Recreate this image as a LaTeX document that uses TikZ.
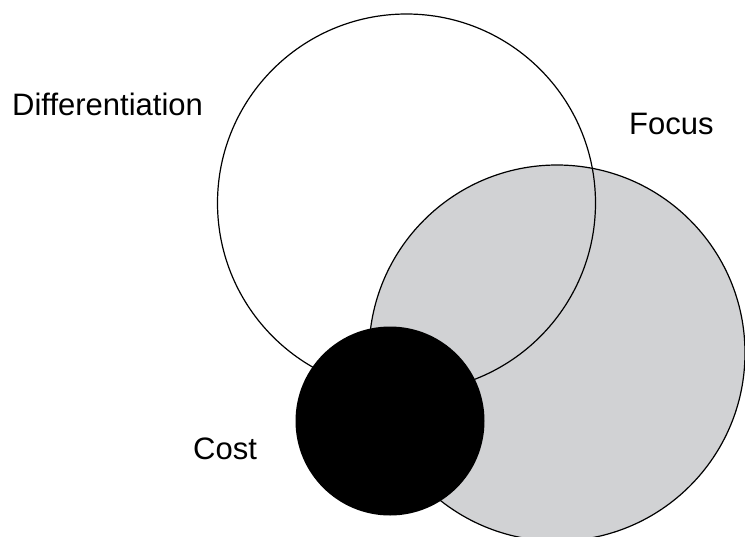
\documentclass[tikz,border=0pt]{standalone}
\usepackage{fontspec}
\setmainfont{Liberation Sans}
\definecolor{focusgray}{HTML}{D1D2D4}
\begin{document}
\begin{tikzpicture}[x=1pt,y=-1pt,
  ring/.style={circle, draw=black, line width=1.2pt, inner sep=0pt, outer sep=0pt},
  lbl/.style={anchor=base west, inner sep=0pt, font=\fontsize{31}{37}\selectfont}]
\useasboundingbox (0,0) rectangle (745,536);
\node[ring, fill=focusgray, minimum size=376pt] (focus) at (557,353) {};
\node[ring, minimum size=378pt] (diff) at (406.5,203) {};
\node[circle, fill=black, inner sep=0pt, minimum size=189pt] (cost) at (390,421) {};
\node[lbl] (tdiff) at (12,115) {Differentiation};
\node[lbl] (tfocus) at (629,134) {Focus};
\node[lbl] (tcost) at (193,459) {Cost};
\end{tikzpicture}
\end{document}
